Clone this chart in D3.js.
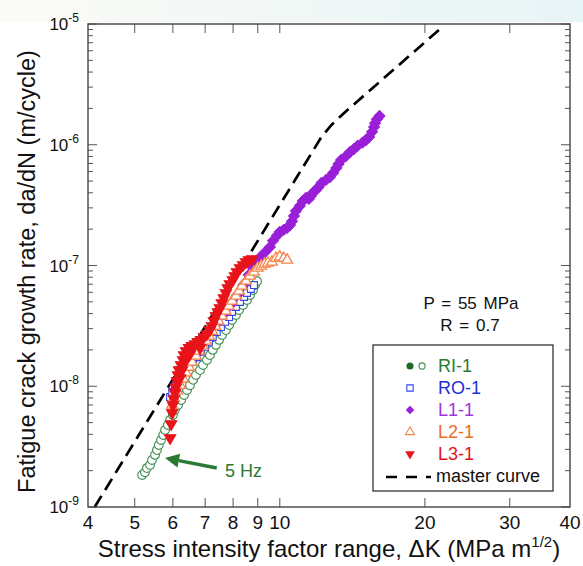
<!DOCTYPE html>
<html>
<head>
<meta charset="utf-8">
<script src="https://cdn.jsdelivr.net/npm/d3@7"></script>
<style>
  body { margin: 0; background: #fff; }
  svg { display: block; font-family: "Liberation Sans", Arial, sans-serif; }
</style>
</head>
<body>
<svg width="583" height="566"></svg>
<script>
const width = 583;
const height = 566;
const margin = { top: 24, right: 13, bottom: 59, left: 88 };

// axis ticks
const xTickValues = [4, 5, 6, 7, 8, 9, 10, 20, 30, 40];
const yDecades = [-9, -8, -7, -6, -5];

// data, [deltaK (MPa m^1/2), da/dN (m/cycle)]
const ri1Open = [
  [5.18, 1.84e-9], [5.25, 1.94e-9], [5.30, 2.10e-9], [5.38, 2.23e-9], [5.43, 2.45e-9],
  [5.51, 2.70e-9], [5.56, 2.96e-9], [5.61, 3.26e-9], [5.67, 3.59e-9], [5.73, 3.95e-9],
  [5.78, 4.34e-9], [5.86, 4.78e-9], [5.92, 5.25e-9], [6.00, 5.78e-9], [6.06, 6.36e-9],
  [6.15, 6.99e-9], [6.24, 7.69e-9], [6.33, 8.46e-9], [6.42, 9.31e-9], [6.51, 1.02e-8],
  [6.61, 1.13e-8], [6.70, 1.24e-8], [6.83, 1.36e-8], [6.93, 1.50e-8], [7.06, 1.65e-8],
  [7.16, 1.81e-8], [7.26, 2.00e-8], [7.37, 2.20e-8], [7.48, 2.42e-8], [7.59, 2.66e-8],
  [7.73, 2.92e-8], [7.85, 3.21e-8], [7.96, 3.54e-8], [8.11, 3.89e-8], [8.23, 4.28e-8],
  [8.39, 4.71e-8], [8.55, 5.18e-8], [8.67, 5.70e-8], [8.80, 6.27e-8], [8.88, 6.89e-8],
  [8.97, 7.40e-8]
];
const ri1Filled = [[6.61, 1.92e-8], [6.72, 2.06e-8]];

const ro1 = [
  [5.92, 8.14e-9], [5.98, 8.96e-9], [6.06, 9.82e-9], [6.15, 1.09e-8], [6.27, 1.19e-8],
  [6.36, 1.31e-8], [6.48, 1.44e-8], [6.61, 1.59e-8], [6.73, 1.74e-8], [6.86, 1.93e-8],
  [7.00, 2.12e-8], [7.13, 2.33e-8], [7.26, 2.56e-8], [7.40, 2.81e-8], [7.55, 3.09e-8],
  [7.70, 3.41e-8], [7.85, 3.74e-8], [7.96, 4.12e-8], [8.11, 4.53e-8], [8.27, 4.99e-8],
  [8.43, 5.49e-8], [8.55, 5.92e-8], [8.71, 6.39e-8], [8.84, 6.89e-8]
];

const l11 = [
  [6.05, 9.31e-9], [6.15, 1.09e-8], [6.27, 1.26e-8], [6.45, 1.53e-8], [6.65, 1.84e-8],
  [6.88, 2.24e-8], [7.12, 2.71e-8], [7.38, 3.27e-8], [7.66, 3.96e-8], [7.90, 4.71e-8],
  [8.16, 5.70e-8], [8.40, 6.89e-8], [8.62, 8.34e-8], [8.76, 9.72e-8], [8.93, 1.07e-7],
  [9.10, 1.17e-7], [9.32, 1.29e-7], [9.54, 1.42e-7], [9.68, 1.60e-7], [9.86, 1.76e-7],
  [10.0, 1.90e-7], [10.19, 1.97e-7], [10.36, 2.05e-7], [10.5, 2.16e-7], [10.6, 2.33e-7],
  [10.7, 2.57e-7], [10.8, 2.83e-7], [11.0, 3.11e-7], [11.16, 3.42e-7], [11.33, 3.63e-7],
  [11.49, 3.56e-7], [11.6, 3.77e-7], [11.7, 3.99e-7], [11.88, 4.22e-7], [12.04, 4.47e-7],
  [12.2, 4.82e-7], [12.47, 5.11e-7], [12.71, 5.41e-7], [12.9, 5.84e-7], [13.1, 6.42e-7],
  [13.24, 6.93e-7], [13.4, 7.48e-7], [13.72, 8.06e-7], [13.99, 8.71e-7], [14.25, 9.22e-7],
  [14.5, 9.81e-7], [14.84, 1.04e-6], [15.1, 1.095e-6], [15.32, 1.16e-6], [15.54, 1.28e-6],
  [15.69, 1.40e-6], [15.76, 1.51e-6], [15.9, 1.63e-6], [16.1, 1.73e-6]
];

const l21 = [
  [5.98, 6.99e-9], [6.03, 7.99e-9], [6.12, 9.13e-9], [6.21, 1.02e-8], [6.30, 1.15e-8],
  [6.39, 1.29e-8], [6.48, 1.44e-8], [6.57, 1.59e-8], [6.70, 1.78e-8], [6.80, 1.96e-8],
  [6.92, 2.16e-8], [7.03, 2.37e-8], [7.13, 2.61e-8], [7.24, 2.86e-8], [7.35, 3.15e-8],
  [7.46, 3.47e-8], [7.58, 3.82e-8], [7.72, 4.20e-8], [7.84, 4.62e-8], [7.96, 5.08e-8],
  [8.11, 5.59e-8], [8.23, 6.15e-8], [8.35, 6.76e-8], [8.51, 7.44e-8], [8.67, 8.18e-8],
  [8.84, 8.84e-8], [9.00, 9.54e-8], [9.15, 9.91e-8], [9.30, 1.03e-7], [9.45, 1.05e-7],
  [9.63, 1.07e-7], [9.82, 1.15e-7], [10.0, 1.18e-7], [10.19, 1.15e-7], [10.36, 1.11e-7]
];

const l31 = [
  [5.92, 3.73e-9], [5.95, 4.87e-9], [5.98, 6.01e-9], [6.00, 6.99e-9], [6.03, 7.84e-9],
  [6.06, 8.79e-9], [6.09, 9.82e-9], [6.12, 1.11e-8], [6.15, 1.24e-8], [6.18, 1.36e-8],
  [6.21, 1.17e-8], [6.27, 1.36e-8], [6.36, 1.59e-8], [6.45, 1.78e-8], [6.51, 1.85e-8],
  [6.24, 1.50e-8], [6.30, 1.65e-8], [6.33, 1.81e-8], [6.39, 1.96e-8], [6.48, 2.08e-8],
  [6.57, 2.16e-8], [6.67, 2.24e-8], [6.76, 2.33e-8], [6.83, 2.08e-8], [6.86, 2.42e-8],
  [6.96, 2.56e-8], [7.06, 2.71e-8], [7.16, 2.92e-8], [7.23, 3.15e-8],
  [7.30, 3.47e-8], [7.37, 3.82e-8], [7.44, 4.12e-8], [7.51, 4.45e-8], [7.58, 4.89e-8],
  [7.65, 5.38e-8], [7.73, 5.92e-8], [7.80, 6.51e-8], [7.88, 7.02e-8], [7.99, 7.58e-8],
  [8.07, 8.18e-8], [8.15, 8.84e-8], [8.27, 9.54e-8], [8.39, 1.01e-7], [8.51, 1.07e-7],
  [8.63, 1.11e-7], [8.76, 1.13e-7]
];

const masterK = [4.13, 12.2, 12.8, 13.65, 21.5];
const masterRate = [1e-9, 1.16e-6, 1.46e-6, 1.86e-6, 9.09e-6];

// "5 Hz" arrow, tail and tip in data units
const arrowTail = [7.40, 2.10e-9];
const arrowTip = [5.78, 2.55e-9];
const arrowLabel = [7.70, 1.77e-9];

const legendItems = [
  { name: "RI-1", color: "#2a7a34" },
  { name: "RO-1", color: "#1c30dc" },
  { name: "L1-1", color: "#a033dc" },
  { name: "L2-1", color: "#f06a1e" },
  { name: "L3-1", color: "#e3121a" },
  { name: "master curve", color: "#111" }
];

const svg = d3.select("svg");

const x = d3.scaleLog().domain([4, 40]).range([margin.left, width - margin.right]);
const y = d3.scaleLog().domain([1e-9, 1e-5]).range([height - margin.bottom, margin.top]);

// faint top band like the screenshot
const grad = svg.append("defs").append("linearGradient").attr("id", "topband");
grad.append("stop").attr("offset", "0%").attr("stop-color", "#fbfbf6");
grad.append("stop").attr("offset", "100%").attr("stop-color", "#e7f4f6");
svg.append("rect").attr("x", 0).attr("y", 0).attr("width", width).attr("height", 22)
   .attr("fill", "url(#topband)");

const plot = svg.append("g");

const isDecade = (v) => Math.abs(Math.log10(v) - Math.round(Math.log10(v))) < 1e-6;

// ticks, all four sides, inward
const yTicks = y.ticks();
const x0 = x.range()[0];
const x1 = x.range()[1];
const y0 = y.range()[0];
const y1 = y.range()[1];

yTicks.forEach((v) => {
  const len = isDecade(v) ? 9 : 5;
  plot.append("line").attr("x1", x0).attr("x2", x0 + len).attr("y1", y(v)).attr("y2", y(v))
      .attr("stroke", "#555").attr("stroke-width", 1);
  plot.append("line").attr("x1", x1).attr("x2", x1 - len).attr("y1", y(v)).attr("y2", y(v))
      .attr("stroke", "#555").attr("stroke-width", 1);
});

xTickValues.slice(1, -1).forEach((v) => {
  plot.append("line").attr("x1", x(v)).attr("x2", x(v)).attr("y1", y0).attr("y2", y0 - 9)
      .attr("stroke", "#555").attr("stroke-width", 1);
  plot.append("line").attr("x1", x(v)).attr("x2", x(v)).attr("y1", y1).attr("y2", y1 + 9)
      .attr("stroke", "#555").attr("stroke-width", 1);
});

// tick labels
svg.append("g")
   .selectAll("text")
   .data(xTickValues)
   .enter().append("text")
   .attr("x", (d) => x(d))
   .attr("y", y0 + 22)
   .attr("text-anchor", "middle")
   .attr("font-size", 19)
   .attr("fill", "#111")
   .text((d) => d);

const yLab = svg.append("g")
   .selectAll("text")
   .data(yDecades)
   .enter().append("text")
   .attr("x", x0 - 9)
   .attr("y", (d) => y(Math.pow(10, d)) + 6)
   .attr("text-anchor", "end")
   .attr("font-size", 17)
   .attr("fill", "#111");
yLab.append("tspan").text("10");
yLab.append("tspan").attr("font-size", 12).attr("dy", -8).text((d) => d);

// master curve
const masterLine = d3.line()
  .x((d, i) => x(masterK[i]))
  .y((d, i) => y(masterRate[i]));

plot.append("path")
    .attr("d", masterLine(masterK))
    .attr("fill", "none")
    .attr("stroke", "#000")
    .attr("stroke-width", 2.7)
    .attr("stroke-dasharray", "13,7");

const drawSeries = (data, symbol, size, opts) => {
  const path = d3.symbol().type(symbol).size(size)();
  plot.append("g")
      .selectAll("path")
      .data(data)
      .enter().append("path")
      .attr("d", path)
      .attr("transform", (d) => "translate(" + x(d[0]) + "," + y(d[1]) + ")" + (opts.rotate ? " rotate(" + opts.rotate + ")" : ""))
      .attr("fill", opts.fill)
      .attr("stroke", opts.stroke)
      .attr("stroke-width", opts.strokeWidth || 1.1);
};

drawSeries(ri1Open, d3.symbolCircle, 60, { fill: "#fff", stroke: "#3f8d4f" });
drawSeries(ri1Filled, d3.symbolCircle, 36, { fill: "#1f6a2b", stroke: "none" });
drawSeries(ro1, d3.symbolSquare, 46, { fill: "#fff", stroke: "#3446e6" });
drawSeries(l11, d3.symbolSquare, 58, { fill: "#9a1fd8", stroke: "#9a1fd8", rotate: 45 });
drawSeries(l21, d3.symbolTriangle, 50, { fill: "#fff", stroke: "#f7844a", strokeWidth: 1.3 });
drawSeries(l31, d3.symbolTriangle, 55, { fill: "#e8141a", stroke: "#e8141a", rotate: 180 });

// frame
svg.append("rect")
   .attr("x", x0).attr("y", y1)
   .attr("width", x1 - x0).attr("height", y0 - y1)
   .attr("fill", "none").attr("stroke", "#444").attr("stroke-width", 1.4);

// 5 Hz arrow
const tail = [x(arrowTail[0]), y(arrowTail[1])];
const tip = [x(arrowTip[0]), y(arrowTip[1])];
const ang = Math.atan2(tip[1] - tail[1], tip[0] - tail[0]);
const headLen = 14;
const headHalf = 7;
const base = [tip[0] - headLen * Math.cos(ang), tip[1] - headLen * Math.sin(ang)];
svg.append("line")
   .attr("x1", tail[0]).attr("y1", tail[1])
   .attr("x2", base[0]).attr("y2", base[1])
   .attr("stroke", "#2a7a34").attr("stroke-width", 3.5);
svg.append("path")
   .attr("d", "M" + tip[0] + "," + tip[1] +
              "L" + (base[0] + headHalf * Math.sin(ang)) + "," + (base[1] - headHalf * Math.cos(ang)) +
              "L" + (base[0] - headHalf * Math.sin(ang)) + "," + (base[1] + headHalf * Math.cos(ang)) + "Z")
   .attr("fill", "#2a7a34");
svg.append("text")
   .attr("x", x(arrowLabel[0])).attr("y", y(arrowLabel[1]))
   .attr("font-size", 18).attr("fill", "#2a7a34")
   .text("5 Hz");

// test conditions
svg.append("text").attr("x", 471).attr("y", 309).attr("text-anchor", "middle")
   .attr("font-size", 17).attr("fill", "#111").attr("word-spacing", 2).text("P = 55 MPa");
svg.append("text").attr("x", 470).attr("y", 331).attr("text-anchor", "middle")
   .attr("font-size", 17).attr("fill", "#111").attr("word-spacing", 2).text("R = 0.7");

// legend
const legend = svg.append("g");
legend.append("rect")
      .attr("x", 373).attr("y", 345).attr("width", 180).attr("height", 146)
      .attr("fill", "#fff").attr("stroke", "#333").attr("stroke-width", 1.3);

const rowY = (i) => 366 + i * 22;
legend.selectAll("text")
      .data(legendItems)
      .enter().append("text")
      .attr("x", (d, i) => (i === 5 ? 436 : 438))
      .attr("y", (d, i) => rowY(i) + 6)
      .attr("font-size", 18)
      .attr("fill", (d) => d.color)
      .text((d) => d.name);

const sym = (type, size) => d3.symbol().type(type).size(size)();
legend.append("path").attr("d", sym(d3.symbolCircle, 40)).attr("transform", `translate(410,${rowY(0)})`)
      .attr("fill", "#1f6a2b");
legend.append("path").attr("d", sym(d3.symbolCircle, 30)).attr("transform", `translate(422,${rowY(0)})`)
      .attr("fill", "#fff").attr("stroke", "#3f8d4f").attr("stroke-width", 1.1);
legend.append("path").attr("d", sym(d3.symbolSquare, 40)).attr("transform", `translate(410,${rowY(1)})`)
      .attr("fill", "#fff").attr("stroke", "#3446e6").attr("stroke-width", 1.1);
legend.append("path").attr("d", sym(d3.symbolSquare, 36)).attr("transform", `translate(410,${rowY(2)}) rotate(45)`)
      .attr("fill", "#9a1fd8");
legend.append("path").attr("d", sym(d3.symbolTriangle, 36)).attr("transform", `translate(410,${rowY(3)})`)
      .attr("fill", "#fff").attr("stroke", "#f7844a").attr("stroke-width", 1.1);
legend.append("path").attr("d", sym(d3.symbolTriangle, 40)).attr("transform", `translate(410,${rowY(4)}) rotate(180)`)
      .attr("fill", "#e8141a");
legend.append("line")
      .attr("x1", 386).attr("x2", 431).attr("y1", rowY(5) + 1).attr("y2", rowY(5) + 1)
      .attr("stroke", "#000").attr("stroke-width", 2.6).attr("stroke-dasharray", "11,9");

// axis titles
const xTitle = svg.append("text")
   .attr("x", (x0 + x1) / 2).attr("y", 557)
   .attr("text-anchor", "middle")
   .attr("font-size", 24)
   .attr("fill", "#111");
xTitle.append("tspan").text("Stress intensity factor range, \u0394K (MPa m");
xTitle.append("tspan").attr("font-size", 15).attr("dy", -10).text("1/2");
xTitle.append("tspan").attr("dy", 10).text(")");

svg.append("text")
   .attr("transform", `translate(35,${(y0 + y1) / 2 + 6}) rotate(-90)`)
   .attr("text-anchor", "middle")
   .attr("font-size", 23.5)
   .attr("fill", "#111")
   .text("Fatigue crack growth rate, da/dN (m/cycle)");
</script>
</body>
</html>
